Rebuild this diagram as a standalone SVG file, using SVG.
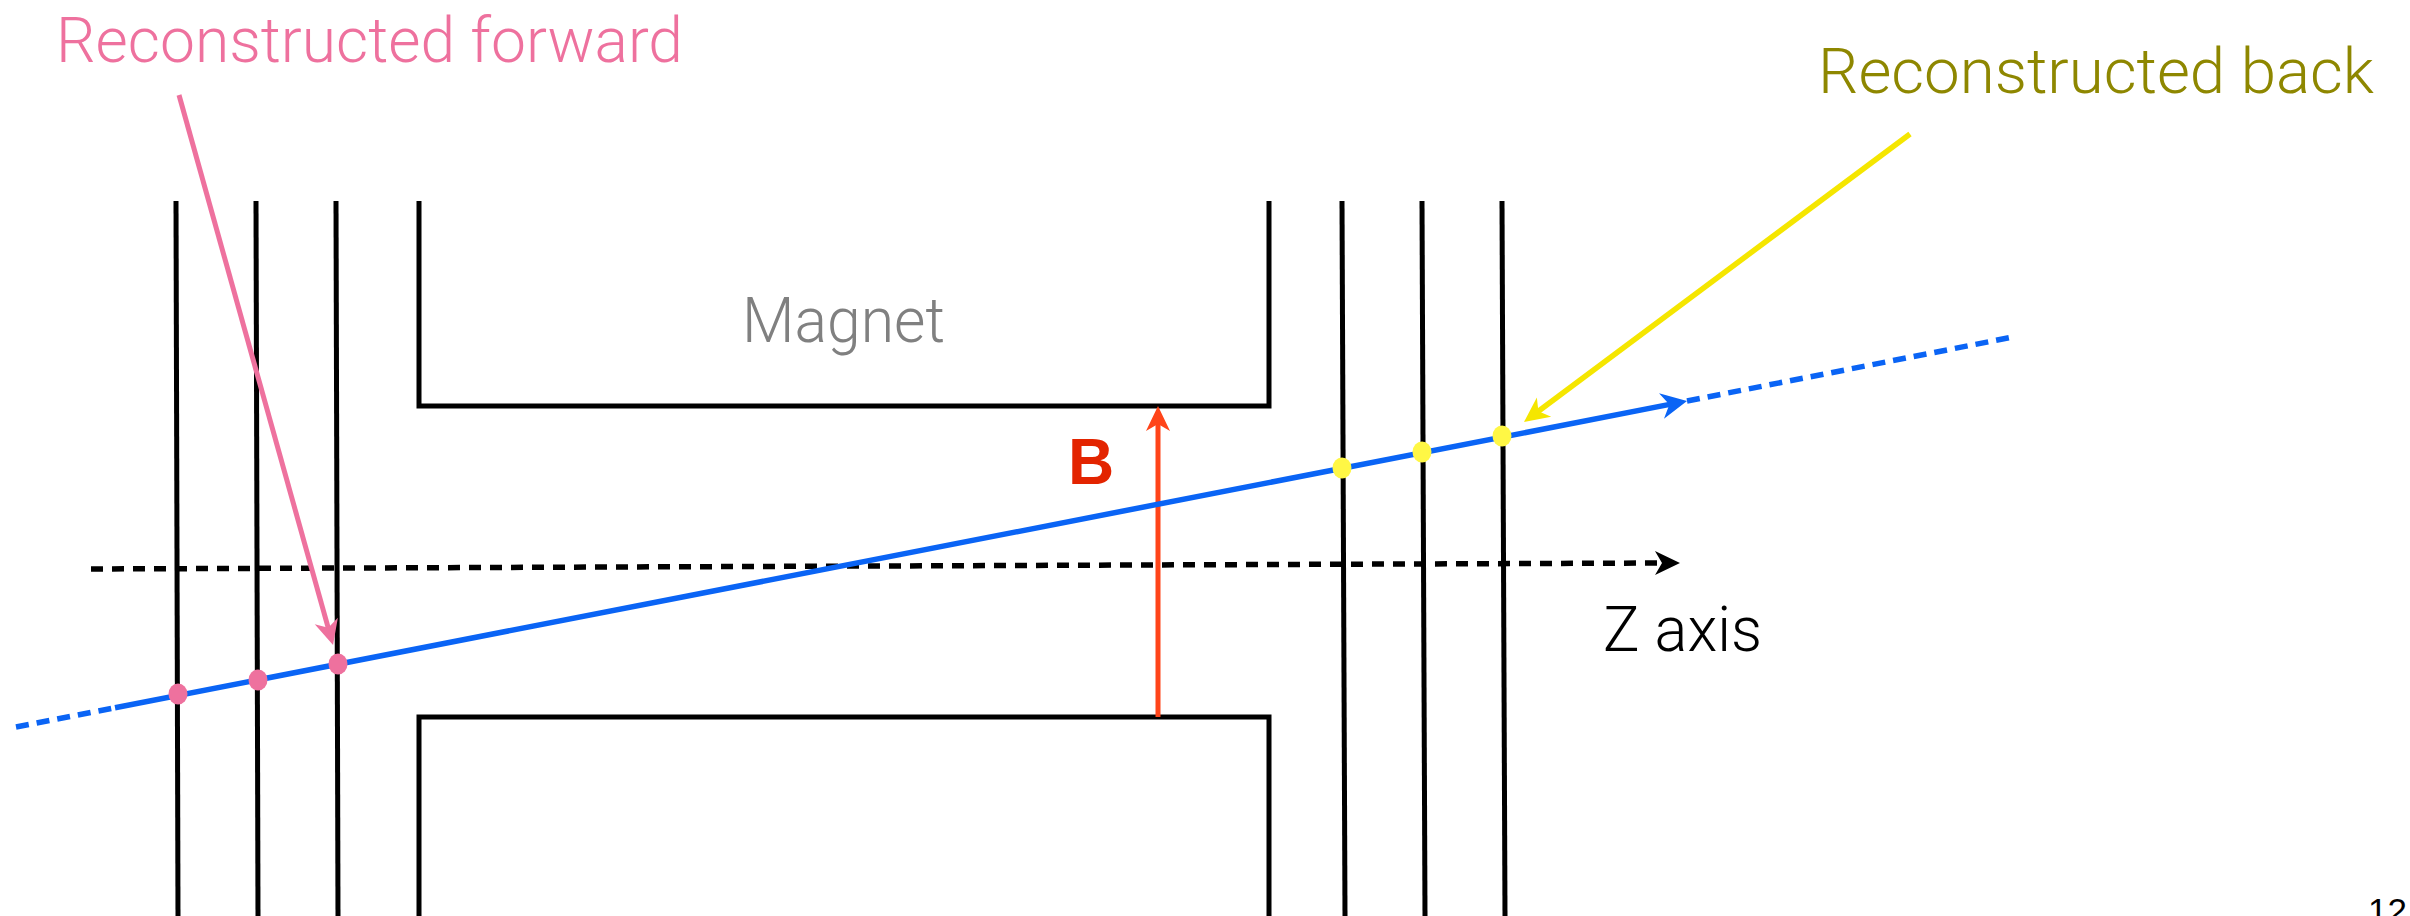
<svg xmlns="http://www.w3.org/2000/svg" width="2410" height="916" viewBox="0 0 2410 916">
<style>
  .det { stroke:#000; stroke-width:5; fill:none; }
  .mag { stroke:#000; stroke-width:5; fill:none; }
  .lbl { font-family:Roboto, "Liberation Sans", Arial, sans-serif; font-weight:300; font-size:63px; }
  .blue { stroke:#0A64F5; stroke-width:5.5; fill:none; }
  .dash { stroke-dasharray:13 8; }
</style>
<defs>
  <marker id="ahBlack" viewBox="-26 -13 27 26" markerWidth="27" markerHeight="26" refX="-15" refY="0" orient="auto" markerUnits="userSpaceOnUse">
    <path d="M0,0 L-25,-12 L-18,0 L-25,12 Z" fill="#000"/>
  </marker>
  <marker id="ahBlue" viewBox="-27 -14 28 28" markerWidth="28" markerHeight="28" refX="-15" refY="0" orient="auto" markerUnits="userSpaceOnUse">
    <path d="M0,0 L-26,-13 L-18,0 L-26,13 Z" fill="#0A64F5"/>
  </marker>
  <marker id="ahRed" viewBox="-26 -13 27 26" markerWidth="27" markerHeight="26" refX="-15" refY="0" orient="auto" markerUnits="userSpaceOnUse">
    <path d="M0,0 L-25,-12 L-18,0 L-25,12 Z" fill="#FF4419"/>
  </marker>
  <marker id="ahPink" viewBox="-26 -13 27 26" markerWidth="27" markerHeight="26" refX="-15" refY="0" orient="auto" markerUnits="userSpaceOnUse">
    <path d="M0,0 L-25,-12 L-18,0 L-25,12 Z" fill="#EE719E"/>
  </marker>
  <marker id="ahYellow" viewBox="-26 -13 27 26" markerWidth="27" markerHeight="26" refX="-15" refY="0" orient="auto" markerUnits="userSpaceOnUse">
    <path d="M0,0 L-25,-12 L-18,0 L-25,12 Z" fill="#F5E600"/>
  </marker>
</defs>

<g id="detectors-front">
  <line class="det" x1="176" y1="201" x2="178" y2="916"/>
  <line class="det" x1="256" y1="201" x2="258" y2="916"/>
  <line class="det" x1="336" y1="201" x2="338" y2="916"/>
</g>
<g id="detectors-back">
  <line class="det" x1="1342" y1="201" x2="1345" y2="916"/>
  <line class="det" x1="1422" y1="201" x2="1425" y2="916"/>
  <line class="det" x1="1502" y1="201" x2="1505" y2="916"/>
</g>
<g id="magnet">
  <path class="mag" d="M419,201 L419,406 L1269,406 L1269,201"/>
  <path class="mag" d="M419,916 L419,717 L1269,717 L1269,916"/>
  <text class="lbl" x="742" y="342" fill="#808080" textLength="203" lengthAdjust="spacingAndGlyphs">Magnet</text>
</g>

<g id="connectors">
  <line id="z-axis" x1="91" y1="569" x2="1665" y2="563" stroke="#000" stroke-width="5.5" stroke-dasharray="12 9" marker-end="url(#ahBlack)"/>
  <line id="b-field" x1="1158" y1="717" x2="1158" y2="421" stroke="#FF4419" stroke-width="5" marker-end="url(#ahRed)"/>
  <line id="track-left-dash" class="blue dash" x1="16" y1="727" x2="115" y2="707.7"/>
  <line id="track" class="blue" x1="115" y1="707.7" x2="1672.3" y2="403.9" marker-end="url(#ahBlue)"/>
  <line id="track-right-dash" class="blue dash" x1="1687" y1="401" x2="2013" y2="337"/>
  <line id="fwd-pointer" x1="179" y1="95" x2="329" y2="630.6" stroke="#EE719E" stroke-width="5" marker-end="url(#ahPink)"/>
  <line id="back-pointer" x1="1910" y1="134" x2="1536" y2="413" stroke="#F5E600" stroke-width="5.5" marker-end="url(#ahYellow)"/>
</g>

<g id="hits-forward" fill="#EE719E">
  <ellipse cx="178" cy="694" rx="9.5" ry="10.5"/>
  <ellipse cx="258" cy="680" rx="9.5" ry="10.5"/>
  <ellipse cx="338" cy="664" rx="9.5" ry="10.5"/>
</g>
<g id="hits-back" fill="#FFF745">
  <ellipse cx="1342" cy="468" rx="9.5" ry="10.5"/>
  <ellipse cx="1422" cy="452" rx="9.5" ry="10.5"/>
  <ellipse cx="1502" cy="436" rx="9.5" ry="10.5"/>
</g>

<g id="label-b">
  <text x="1068" y="484" font-family="Liberation Sans, Arial, sans-serif" font-weight="bold" font-size="64" fill="#E32400">B</text>
</g>
<g id="label-z">
  <text class="lbl" x="1603" y="651" fill="#000" textLength="159" lengthAdjust="spacingAndGlyphs">Z axis</text>
</g>
<g id="label-forward">
  <text class="lbl" x="56" y="62" fill="#EE719E" textLength="627" lengthAdjust="spacingAndGlyphs">Reconstructed forward</text>
</g>
<g id="label-back">
  <text class="lbl" x="1818" y="93" fill="#8E8700" textLength="556" lengthAdjust="spacingAndGlyphs">Reconstructed back</text>
</g>
<g id="page-number">
  <text x="2368" y="923" font-family="Liberation Sans, Arial, sans-serif" font-size="35" fill="#000">12</text>
</g>
</svg>
